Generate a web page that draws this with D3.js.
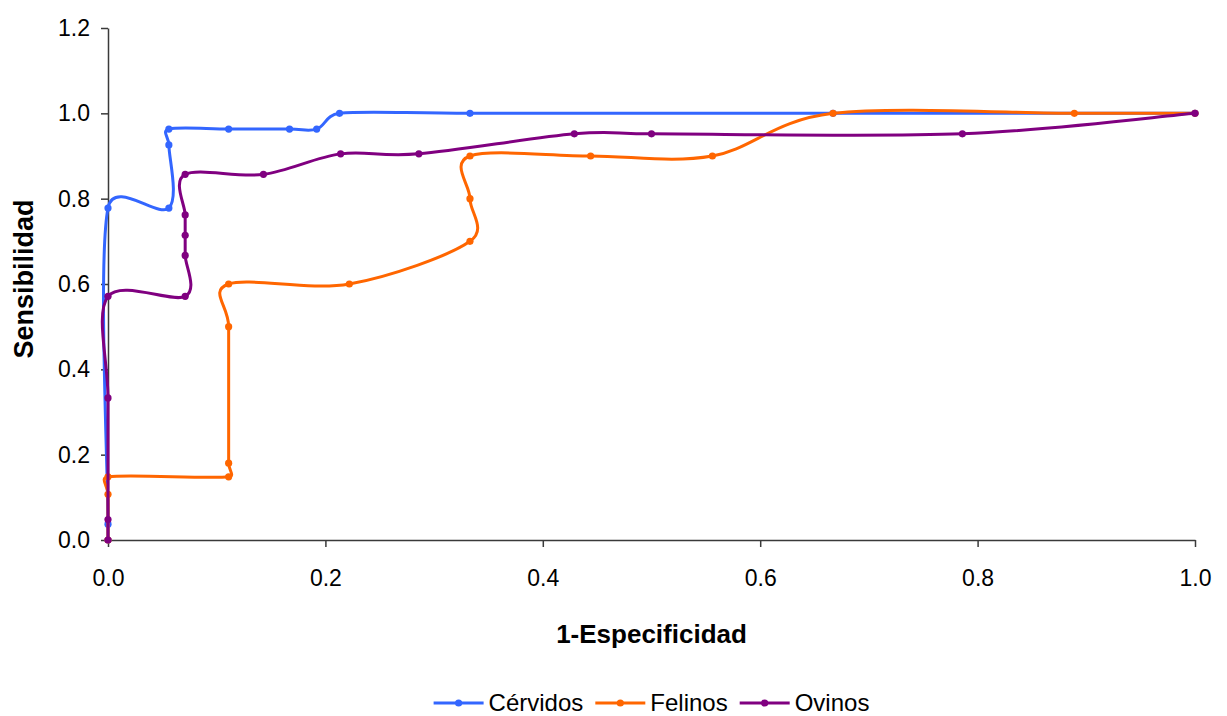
<!DOCTYPE html>
<html><head><meta charset="utf-8">
<script src="https://cdn.jsdelivr.net/npm/d3@7/dist/d3.min.js"></script>
<style>
body{margin:0;background:#fff}
svg{display:block}
text{font-family:"Liberation Sans",Arial,sans-serif;fill:#000}
</style>
</head><body>
<svg id="chart" width="1227" height="716"></svg>
<script>
// ---- data ----
const seriesNames = ["Cérvidos", "Felinos", "Ovinos"];
const seriesColors = ["#3366FF", "#FF6600", "#800080"];

const cervidosX = [0, 0, 0, 0.056, 0.056, 0.056, 0.111, 0.167, 0.192, 0.213, 0.333, 0.667, 1.0];
const cervidosY = [0, 0.037, 0.778, 0.778, 0.926, 0.963, 0.963, 0.963, 0.963, 1.0, 1.0, 1.0, 1.0];

const felinosX = [0, 0, 0, 0.111, 0.111, 0.111, 0.111, 0.222, 0.333, 0.333, 0.333, 0.444, 0.556, 0.667, 0.889, 1.0];
const felinosY = [0, 0.107, 0.148, 0.148, 0.18, 0.5, 0.6, 0.6, 0.7, 0.8, 0.9, 0.9, 0.9, 1.0, 1.0, 1.0];

const ovinosX = [0, 0, 0, 0, 0.071, 0.071, 0.071, 0.071, 0.071, 0.143, 0.214, 0.286, 0.429, 0.5, 0.786, 1.0];
const ovinosY = [0, 0.048, 0.333, 0.571, 0.571, 0.667, 0.714, 0.762, 0.857, 0.857, 0.905, 0.905, 0.952, 0.952, 0.952, 1.0];

const xTicks = [0, 0.2, 0.4, 0.6, 0.8, 1.0];
const yTicks = [0, 0.2, 0.4, 0.6, 0.8, 1.0, 1.2];
const xTitle = "1-Especificidad";
const yTitle = "Sensibilidad";

// ---- layout ----
const L = 108, R = 1195, T = 28, B = 540;
const svg = d3.select("#chart");
const x = d3.scaleLinear().domain([0, 1]).range([L, R]);
const y = d3.scaleLinear().domain([0, 1.2]).range([B, T]);

// Excel-like smoothing: Catmull-Rom bezier with arms clamped to half the segment
function ExcelSmooth(ctx) { this._context = ctx; }
ExcelSmooth.prototype = {
  areaStart() {}, areaEnd() {},
  lineStart() { this._pts = []; },
  point(px, py) { this._pts.push([+px, +py]); },
  lineEnd() {
    const p = this._pts, c = this._context, n = p.length;
    if (!n) return;
    c.moveTo(p[0][0], p[0][1]);
    for (let i = 0; i < n - 1; i++) {
      const p0 = p[Math.max(i - 1, 0)], p1 = p[i], p2 = p[i + 1], p3 = p[Math.min(i + 2, n - 1)];
      const d12 = Math.hypot(p2[0] - p1[0], p2[1] - p1[1]);
      let ax = (p2[0] - p0[0]) / 6, ay = (p2[1] - p0[1]) / 6;
      let la = Math.hypot(ax, ay);
      if (la > d12 / 2 && la > 0) { const s = d12 / 2 / la; ax *= s; ay *= s; }
      let bx = (p3[0] - p1[0]) / 6, by = (p3[1] - p1[1]) / 6;
      let lb = Math.hypot(bx, by);
      if (lb > d12 / 2 && lb > 0) { const s = d12 / 2 / lb; bx *= s; by *= s; }
      c.bezierCurveTo(p1[0] + ax, p1[1] + ay, p2[0] - bx, p2[1] - by, p2[0], p2[1]);
    }
  }
};
const curveExcel = ctx => new ExcelSmooth(ctx);

// ---- axes ----
const axisColor = "#3a3a3a";
const yAxis = svg.append("g").attr("transform", `translate(${L},0)`)
  .call(d3.axisLeft(y).tickValues(yTicks).tickFormat(d3.format(".1f")).tickSize(7).tickSizeOuter(0).tickPadding(11));
const xAxis = svg.append("g").attr("transform", `translate(0,${B})`)
  .call(d3.axisBottom(x).tickValues(xTicks).tickFormat(d3.format(".1f")).tickSize(7).tickSizeOuter(0).tickPadding(23));
[yAxis, xAxis].forEach(g => {
  g.select(".domain").attr("stroke", axisColor).attr("stroke-width", 1.5);
  g.selectAll(".tick line").attr("stroke", axisColor).attr("stroke-width", 1.5);
  g.selectAll(".tick text").attr("font-size", 23).attr("fill", "#000")
    .style("font-family", '"Liberation Sans", Arial, sans-serif');
});

// axis titles
svg.append("text").attr("x", (L + R) / 2).attr("y", 643).attr("text-anchor", "middle")
  .attr("font-size", 26).attr("font-weight", "bold").text(xTitle);
svg.append("text").attr("transform", `translate(33,279) rotate(-90)`).attr("text-anchor", "middle")
  .attr("font-size", 27).attr("font-weight", "bold").text(yTitle);

// ---- series ----
const series = [
  { name: seriesNames[0], color: seriesColors[0], xs: cervidosX, ys: cervidosY },
  { name: seriesNames[1], color: seriesColors[1], xs: felinosX, ys: felinosY },
  { name: seriesNames[2], color: seriesColors[2], xs: ovinosX, ys: ovinosY }
];
const line = d3.line().x(d => x(d[0])).y(d => y(d[1])).curve(curveExcel);

series.forEach(s => {
  const pts = s.xs.map((v, i) => [v, s.ys[i]]);
  const g = svg.append("g");
  g.append("path").attr("d", line(pts)).attr("fill", "none")
    .attr("stroke", s.color).attr("stroke-width", 3).attr("stroke-linejoin", "round");
  g.selectAll("circle").data(pts).join("circle")
    .attr("cx", d => x(d[0])).attr("cy", d => y(d[1])).attr("r", 3.6).attr("fill", s.color);
});

// ---- legend ----
const legend = svg.append("g");
const legY = 703;
let cx = 0;
series.forEach(s => {
  const it = legend.append("g").attr("transform", `translate(${cx},0)`);
  it.append("line").attr("x1", 0).attr("x2", 50).attr("y1", legY).attr("y2", legY)
    .attr("stroke", s.color).attr("stroke-width", 3);
  it.append("circle").attr("cx", 25).attr("cy", legY).attr("r", 3.6).attr("fill", s.color);
  const t = it.append("text").attr("x", 55).attr("y", legY + 8).attr("font-size", 24).text(s.name);
  const w = t.node().getComputedTextLength();
  cx += 55 + w + 12;
});
const totalW = cx - 12;
legend.attr("transform", `translate(${(L + R) / 2 - totalW / 2},0)`);
</script>
</body></html>
